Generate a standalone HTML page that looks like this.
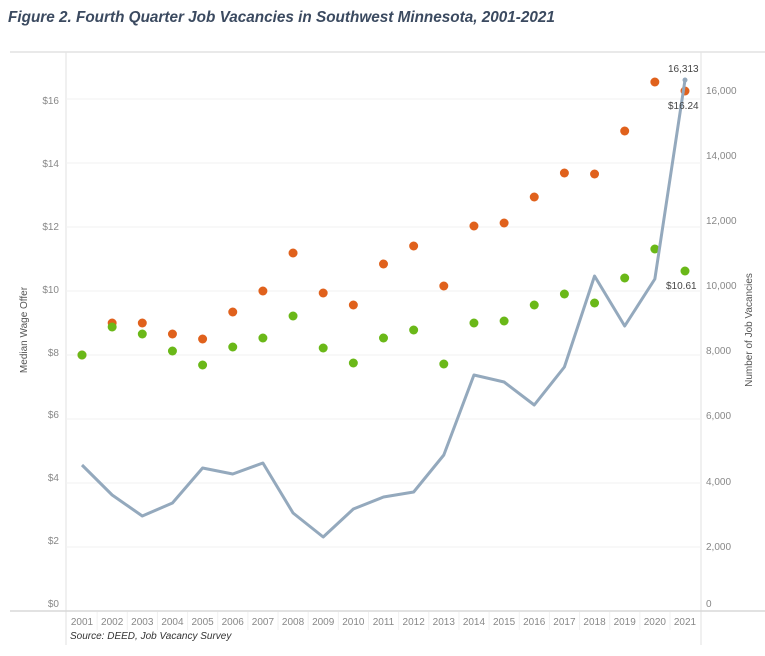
<!DOCTYPE html><html><head><meta charset="utf-8"><style>body{margin:0;background:#fff}svg{display:block;font-family:"Liberation Sans",sans-serif}</style></head><body>
<svg width="765" height="656" viewBox="0 0 765 656">
<text x="8" y="22" font-size="15.3" font-weight="bold" font-style="italic" fill="#3b4a60">Figure 2. Fourth Quarter Job Vacancies in Southwest Minnesota, 2001-2021</text>
<line x1="10" y1="52" x2="765" y2="52" stroke="#e2e2e2" stroke-width="1.5"/>
<line x1="66" y1="52" x2="66" y2="645" stroke="#e2e2e2"/>
<line x1="701" y1="52" x2="701" y2="645" stroke="#e2e2e2"/>
<line x1="10" y1="611" x2="765" y2="611" stroke="#d8d8d8" stroke-width="1.5"/>
<g stroke="#f2f2f2"><line x1="66" y1="99" x2="701" y2="99"/><line x1="66" y1="163" x2="701" y2="163"/><line x1="66" y1="227" x2="701" y2="227"/><line x1="66" y1="291" x2="701" y2="291"/><line x1="66" y1="355" x2="701" y2="355"/><line x1="66" y1="419" x2="701" y2="419"/><line x1="66" y1="483" x2="701" y2="483"/><line x1="66" y1="547" x2="701" y2="547"/></g>
<g font-size="10" fill="#888" text-anchor="end"><text x="59" y="104">$16</text><text x="59" y="167">$14</text><text x="59" y="230">$12</text><text x="59" y="293">$10</text><text x="59" y="356">$8</text><text x="59" y="418">$6</text><text x="59" y="481">$4</text><text x="59" y="544">$2</text><text x="59" y="607">$0</text></g>
<g font-size="10" fill="#888"><text x="706" y="94">16,000</text><text x="706" y="159">14,000</text><text x="706" y="224">12,000</text><text x="706" y="289">10,000</text><text x="706" y="354">8,000</text><text x="706" y="419">6,000</text><text x="706" y="485">4,000</text><text x="706" y="550">2,000</text><text x="706" y="607">0</text></g>
<text transform="translate(27,330) rotate(-90)" font-size="10" fill="#555" text-anchor="middle">Median Wage Offer</text>
<text transform="translate(752,330) rotate(-90)" font-size="10" fill="#555" text-anchor="middle">Number of Job Vacancies</text>
<g font-size="10" fill="#888" text-anchor="middle" id="yrs"></g>
<text x="70" y="639" font-size="10" font-style="italic" fill="#333">Source: DEED, Job Vacancy Survey</text>
<g id="plot"></g>
<text x="668" y="72" font-size="10" fill="#444">16,313</text>
<text x="668" y="109" font-size="10" fill="#444">$16.24</text>
<text x="666" y="289" font-size="10" fill="#444">$10.61</text>
<script>
var xs=i=>82+i*30.15;
var o=[355,323,323,334,339,312,291,253,293,305,264,246,286,226,223,197,173,174,131,82,91];
var g=[355,327,334,351,365,347,338,316,348,363,338,330,364,323,321,305,294,303,278,249,271];
var l=[465,495,516,503,468,474,463,513,537,509,497,492,455,375,382,405,367,276,326,279,80];
var ns="http://www.w3.org/2000/svg",p=document.getElementById("plot"),y=document.getElementById("yrs");
function el(t,a,par){var e=document.createElementNS(ns,t);for(var k in a)e.setAttribute(k,a[k]);par.appendChild(e);return e;}
for(var i=0;i<21;i++){var t=el("text",{x:xs(i),y:625},y);t.textContent=2001+i;
 if(i>0)el("line",{x1:xs(i)-15,y1:612,x2:xs(i)-15,y2:630,stroke:"#f0f0f0"},p);}
for(i=0;i<21;i++)el("circle",{cx:xs(i),cy:o[i],r:4.5,fill:"#e0611c"},p);
for(i=0;i<21;i++)el("circle",{cx:xs(i),cy:g[i],r:4.5,fill:"#6ab818"},p);
el("polyline",{points:l.map((v,i)=>xs(i)+","+v).join(" "),fill:"none",stroke:"#94a9bd","stroke-width":3,"stroke-linejoin":"round"},p);
el("circle",{cx:xs(20),cy:80,r:2.5,fill:"#94a9bd"},p);
</script>
</svg></body></html>
